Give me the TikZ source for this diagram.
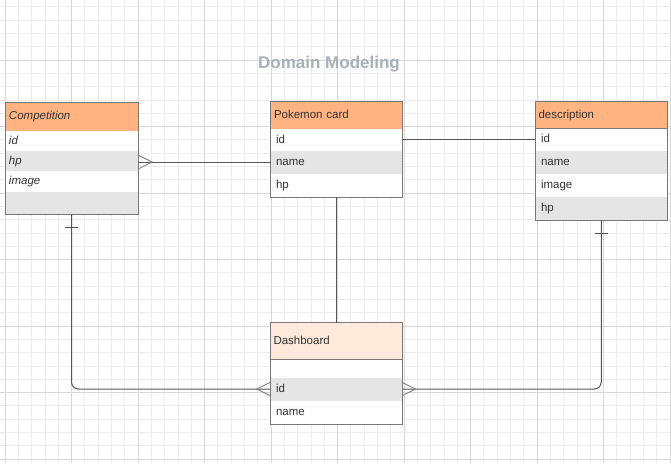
\documentclass[tikz,border=0pt]{standalone}
\usepackage{fontspec}
\setmainfont{Liberation Sans}
\usetikzlibrary{calc}
\definecolor{gridminor}{RGB}{236,236,236}
\definecolor{gridmajor}{RGB}{216,216,216}
\definecolor{hdr}{RGB}{255,179,128}
\definecolor{hdrlight}{RGB}{255,233,219}
\definecolor{shade}{RGB}{229,229,229}
\definecolor{bordercol}{RGB}{120,120,120}
\definecolor{txt}{RGB}{51,51,51}
\definecolor{conn}{RGB}{85,85,85}
\definecolor{crowcol}{RGB}{130,130,130}
\definecolor{titlecol}{RGB}{168,176,186}
\begin{document}
\begin{tikzpicture}[x=1pt,y=-1pt,
  cell/.style n args={3}{anchor=north west, inner ysep=0pt, outer sep=0pt, align=left, text=txt,
    font=\fontsize{11.5}{13}\selectfont, text height=8.5pt, text depth=2.5pt,
    minimum height=#1, text width=#2, inner xsep=#3},
  hdrcell/.style={fill=hdr, draw=bordercol, line width=1pt},
  lightcell/.style={fill=shade},
  whitecell/.style={fill=white},
  box/.style={draw=bordercol, line width=1pt},
  conline/.style={draw=conn, line width=1pt},
  crowline/.style={draw=crowcol, line width=0.9pt},
  gridmin/.style={draw=gridminor, line width=0.8pt},
  gridmaj/.style={draw=gridmajor, line width=0.8pt}
]
\useasboundingbox (0,0) rectangle (671,463);
\fill[white] (0,0) rectangle (671,463);
% grid
\foreach \i in {0,...,50} \draw[gridmin] ({5+13.3*\i},0) -- ({5+13.3*\i},463);
\foreach \j in {0,...,34} \draw[gridmin] (0,{6.8+13.3*\j}) -- (671,{6.8+13.3*\j});
\foreach \i in {0,...,10} \draw[gridmaj] ({5+66.5*\i},0) -- ({5+66.5*\i},463);
\foreach \j in {-1,...,6} \draw[gridmaj] (0,{60+66.5*\j}) -- (671,{60+66.5*\j});

% title
\node[font=\bfseries\fontsize{17}{20}\selectfont, text=titlecol] (title) at (329,64.5) {Domain Modeling};

% Competition
\node[cell={29pt}{125pt}{4pt}, hdrcell, font=\itshape\fontsize{11.5}{13}\selectfont] (comp) at (5,102) {Competition};
\node[cell={20pt}{125pt}{4pt}, whitecell, font=\itshape\fontsize{11.5}{13}\selectfont] (comp-id) at (comp.south west) {id};
\node[cell={20pt}{125pt}{4pt}, lightcell, font=\itshape\fontsize{11.5}{13}\selectfont] (comp-hp) at (comp-id.south west) {hp};
\node[cell={21pt}{125pt}{4pt}, whitecell, font=\itshape\fontsize{11.5}{13}\selectfont] (comp-image) at (comp-hp.south west) {image};
\node[cell={22pt}{125pt}{4pt}, lightcell] (comp-blank) at (comp-image.south west) {};
\draw[box] (comp.north west) rectangle (comp-blank.south east);

% Pokemon card
\node[cell={28pt}{125pt}{3.5pt}, hdrcell] (pk) at (270.5,101) {Pokemon card};
\node[cell={22pt}{121pt}{5.5pt}, whitecell] (pk-id) at (pk.south west) {id};
\node[cell={22.5pt}{121pt}{5.5pt}, lightcell] (pk-name) at (pk-id.south west) {name};
\node[cell={23.5pt}{121pt}{5.5pt}, whitecell] (pk-hp) at (pk-name.south west) {hp};
\draw[box] (pk.north west) rectangle (pk-hp.south east);

% description
\node[cell={27pt}{125.5pt}{3.5pt}, hdrcell] (desc) at (535,101.5) {description};
\node[cell={22.5pt}{120.5pt}{6pt}, whitecell] (desc-id) at (desc.south west) {id};
\node[cell={22.5pt}{120.5pt}{6pt}, lightcell] (desc-name) at (desc-id.south west) {name};
\node[cell={23.5pt}{120.5pt}{6pt}, whitecell] (desc-image) at (desc-name.south west) {image};
\node[cell={23pt}{120.5pt}{6pt}, lightcell] (desc-hp) at (desc-image.south west) {hp};
\draw[box] (desc.north west) rectangle (desc-hp.south east);

% Dashboard
\node[cell={37pt}{125.5pt}{3.5pt}, hdrcell, fill=hdrlight] (dash) at (270,322.5) {Dashboard};
\node[cell={18pt}{120.5pt}{6pt}, whitecell] (dash-blank) at (dash.south west) {};
\node[cell={23pt}{120.5pt}{6pt}, lightcell] (dash-id) at (dash-blank.south west) {id};
\node[cell={23.5pt}{120.5pt}{6pt}, whitecell] (dash-name) at (dash-id.south west) {name};
\draw[box] (dash.north west) rectangle (dash-name.south east);

% connector Competition -- Pokemon card (many at Competition)
\coordinate (c1) at ($(comp-hp.east)+(0,1)$);
\draw[conline] (c1) -- (c1 -| pk-name.west);
\draw[crowline] ($(c1)+(0,-7)$) -- ($(c1)+(14,0)$) -- ($(c1)+(0,7)$);

% connector Pokemon card -- description
\draw[conline] ($(pk-id.east)+(0,-1)$) -- ($(desc-id.west)+(0,-0.75)$);

% connector Pokemon card -- Dashboard
\draw[conline] (pk-hp.south) -- (pk-hp.south |- dash.north);

% connector Competition -- Dashboard
\draw[conline, rounded corners=7pt] (comp-blank.south) |- (dash-id.west);
\draw[conline] ($(comp-blank.south)+(-6.5,13)$) -- ($(comp-blank.south)+(6.5,13)$);
\draw[crowline] ($(dash-id.west)+(0,-6.5)$) -- ($(dash-id.west)+(-13.3,0)$) -- ($(dash-id.west)+(0,6.5)$);

% connector description -- Dashboard
\draw[conline, rounded corners=7pt] (desc-hp.south) |- (dash-id.east);
\draw[conline] ($(desc-hp.south)+(-6.5,13)$) -- ($(desc-hp.south)+(6.5,13)$);
\draw[crowline] ($(dash-id.east)+(0,-6.5)$) -- ($(dash-id.east)+(13,0)$) -- ($(dash-id.east)+(0,6.5)$);
\end{tikzpicture}
\end{document}
